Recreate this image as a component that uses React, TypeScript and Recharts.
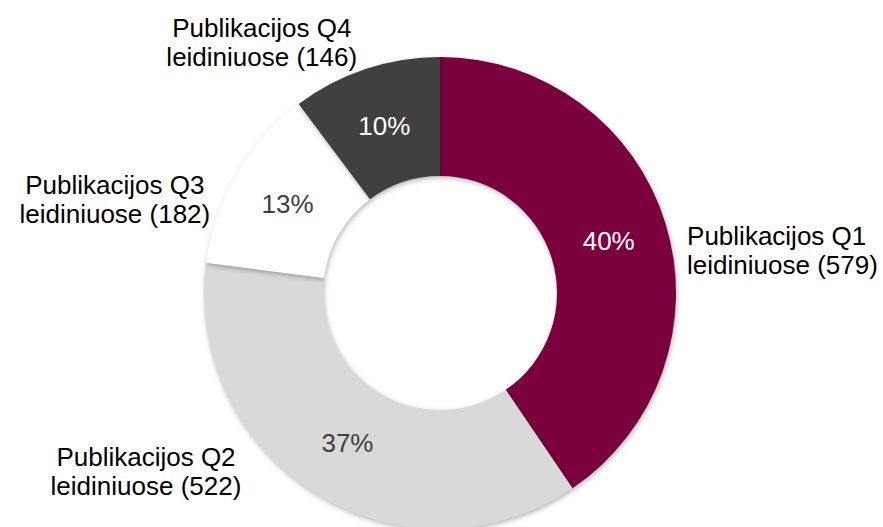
import React from "react";
import { PieChart, Pie, Cell } from "recharts";

const categories = ["Publikacijos Q1", "Publikacijos Q2", "Publikacijos Q3", "Publikacijos Q4"];
const counts = [579, 522, 182, 146];
const percentLabels = ["40%", "37%", "13%", "10%"];

const colors = ["#7A003E", "#D9D9D9", "#FFFFFF", "#404040"];
const pctColors = ["#FFFFFF", "#404040", "#404040", "#FFFFFF"];
// label offsets (dx, dy) from anchor point on outer ring, text anchor
const labelOffsets: [number, number, "start" | "middle" | "end"][] = [
  [10, 25, "start"],
  [-164, -38, "middle"],
  [-111, 26, "middle"],
  [-100, -21, "middle"],
];

const data = categories.map((c, i) => ({ name: c, value: counts[i] }));

const RAD = Math.PI / 180;
const FONT = "'Liberation Sans', Arial, sans-serif";

const renderLabel = (props: any) => {
  const { cx, cy, midAngle, innerRadius, outerRadius, index } = props;
  const mr = (innerRadius + outerRadius) / 2;
  const px = cx + mr * Math.cos(-midAngle * RAD);
  const py = cy + mr * Math.sin(-midAngle * RAD);
  const R = outerRadius + 12;
  const ax = cx + R * Math.cos(-midAngle * RAD);
  const ay = cy + R * Math.sin(-midAngle * RAD);
  const [dx, dy, anchor] = labelOffsets[index];
  const lx = ax + dx;
  const ly = ay + dy;
  return (
    <g key={`lbl-${index}`}>
      <text
        x={px}
        y={py}
        fill={pctColors[index]}
        textAnchor="middle"
        dominantBaseline="central"
        fontSize={26}
        fontFamily={FONT}
      >
        {percentLabels[index]}
      </text>
      <text x={lx} y={ly} fill="#000000" textAnchor={anchor} fontSize={26} fontFamily={FONT}>
        <tspan x={lx} y={ly}>{categories[index]}</tspan>
        <tspan x={lx} y={ly + 29}>{`leidiniuose (${counts[index]})`}</tspan>
      </text>
    </g>
  );
};

export default function App() {
  return (
    <div style={{ position: "absolute", left: 0, top: 0, width: 883, height: 527, background: "#fff" }}>
      <style>{`.recharts-pie-sectors, .recharts-pie-sector { filter: drop-shadow(1px 2px 2.5px rgba(0,0,0,0.28)); }`}</style>
      <PieChart width={883} height={527} margin={{ top: 0, right: 0, bottom: 0, left: 0 }}>
        <Pie
          data={data}
          dataKey="value"
          nameKey="name"
          cx={440}
          cy={293}
          innerRadius={117}
          outerRadius={236}
          startAngle={90}
          endAngle={-270}
          stroke="none"
          label={renderLabel}
          labelLine={false}
          isAnimationActive={false}
        >
          {data.map((d, i) => (
            <Cell key={d.name} fill={colors[i]} />
          ))}
        </Pie>
      </PieChart>
    </div>
  );
}
